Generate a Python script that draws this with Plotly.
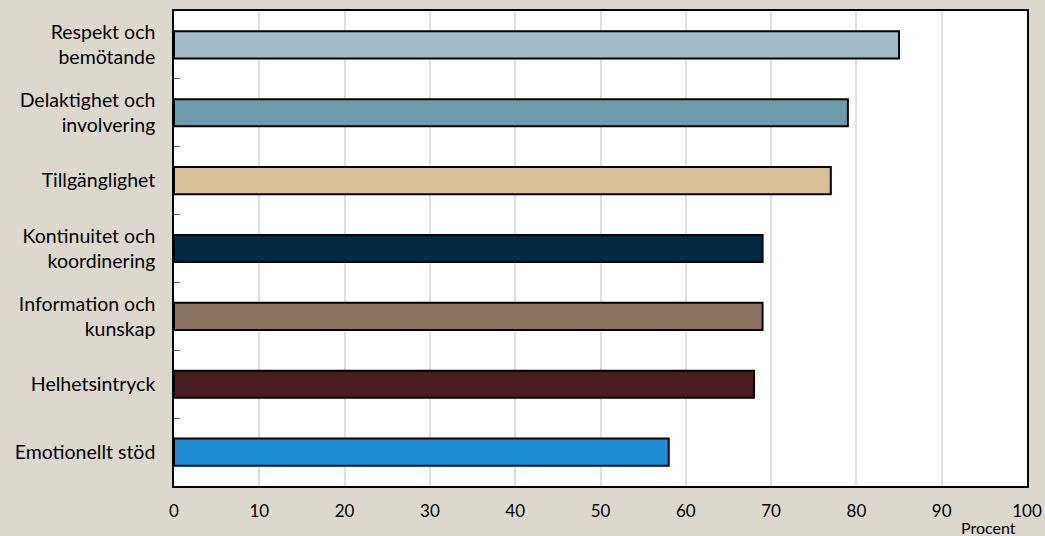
import plotly.graph_objects as go

categories = ["Respekt och<br>bemötande", "Delaktighet och<br>involvering", "Tillgänglighet",
              "Kontinuitet och<br>koordinering", "Information och<br>kunskap", "Helhetsintryck",
              "Emotionellt stöd"]
values = [85, 79, 77, 69, 69, 68, 58]
colors = ["#A0BCC6", "#6C9BAA", "#D9C198", "#002944", "#8C7461", "#4A1C20", "#1F8DD6"]
x_ticks = [0, 10, 20, 30, 40, 50, 60, 70, 80, 90, 100]

fig = go.Figure(go.Bar(
    y=categories, x=values, orientation="h",
    marker=dict(color=colors, line=dict(color="#000000", width=2)),
))

fig.update_layout(
    width=1045, height=536,
    paper_bgcolor="#DDD8CE", plot_bgcolor="#FFFFFF",
    margin=dict(l=174, r=18, t=11, b=50),
    bargap=0.6,
    showlegend=False,
    font=dict(family="Lato, Open Sans, sans-serif", size=19, color="#000000"),
)
fig.update_xaxes(range=[0, 100], tickvals=x_ticks, showgrid=True, gridcolor="#E3DED7", gridwidth=1.5,
                 showline=True, linecolor="#000000", linewidth=1.5, mirror=True,
                 ticks="", tickfont=dict(size=17), zeroline=False, ticklabelstandoff=9,
                 automargin=False)
fig.update_yaxes(autorange="reversed", categoryorder="array", categoryarray=categories,
                 showline=True, linecolor="#000000", linewidth=1.5, mirror=True,
                 ticks="inside", tickson="boundaries", ticklen=6, tickcolor="#666666",
                 tickfont=dict(size=19.5), ticklabelstandoff=13, automargin=False)
fig.add_annotation(text="Procent", xref="paper", yref="paper", x=0.955, y=-0.088,
                   xanchor="center", yanchor="middle", showarrow=False, font=dict(size=16))

fig.write_html("out.html", config={"displayModeBar": False},
               post_script="document.body.style.margin='0';")
